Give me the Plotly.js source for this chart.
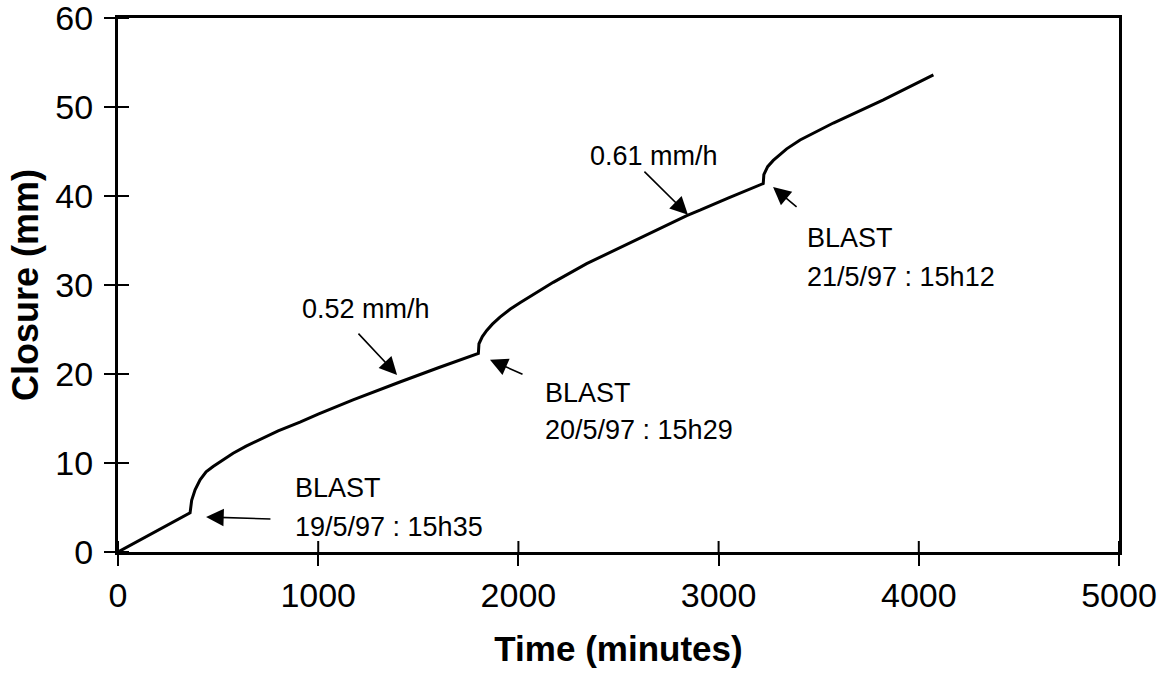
<!DOCTYPE html>
<html>
<head>
<meta charset="utf-8">
<script src="https://cdn.plot.ly/plotly-3.0.1.min.js"></script>
<style>html,body{margin:0;padding:0;background:#fff}#chart{width:1166px;height:681px}</style>
</head>
<body>
<div id="chart"></div>
<script>
const timeMin = [0, 360, 368, 385, 410, 440, 475, 520, 575, 640, 709, 800, 909, 1000, 1174, 1300, 1408, 1600, 1800, 1803, 1820, 1842, 1870, 1908, 1960, 2008, 2100, 2174, 2341, 2591, 2841, 2907, 3050, 3223, 3226, 3245, 3273, 3340, 3407, 3573, 3700, 3823, 4073];
const closureMm = [0, 4.4, 5.8, 7.0, 8.1, 9.0, 9.6, 10.3, 11.1, 11.9, 12.6, 13.6, 14.6, 15.5, 17.1, 18.2, 19.1, 20.7, 22.3, 23.4, 24.2, 24.9, 25.6, 26.4, 27.3, 28.0, 29.3, 30.3, 32.4, 35.1, 37.8, 38.4, 39.8, 41.4, 42.4, 43.3, 44.0, 45.3, 46.3, 48.2, 49.5, 50.8, 53.6];

const xTicks = [0, 1000, 2000, 3000, 4000, 5000];
const yTicks = [0, 10, 20, 30, 40, 50, 60];

// arrows: [headX, headY, tailX, tailY]
const arrowHeads = [[440, 3.93, 769, 3.7], [1394, 19.9, 1194, 24.7], [1858, 21.6, 2028, 19.9], [2847, 37.9, 2622, 42.9], [3272, 41.0, 3397, 38.65]];
// labels: [text, x (left), y (center)]
const labels = [
  ["0.61 mm/h", 2348, 44.5],
  ["0.52 mm/h", 909, 27.3],
  ["BLAST", 2123, 17.9],
  ["20/5/97 : 15h29", 2123, 13.7],
  ["BLAST", 3432, 35.3],
  ["21/5/97 : 15h12", 3432, 30.9],
  ["BLAST", 874, 7.19],
  ["19/5/97 : 15h35", 874, 2.81]
];

const FONT = "Arial, 'Liberation Sans', sans-serif";

const annotations = [];
arrowHeads.forEach(a => {
  annotations.push({
    x: a[0], y: a[1], ax: a[2], ay: a[3], axref: 'x', ayref: 'y', xref: 'x', yref: 'y',
    text: '', showarrow: true, arrowhead: 2, arrowsize: 2.2, arrowwidth: 1.6, arrowcolor: '#000', standoff: 0
  });
});
labels.forEach(l => {
  annotations.push({
    x: l[1], y: l[2], xref: 'x', yref: 'y', text: l[0], showarrow: false,
    xanchor: 'left', yanchor: 'middle', font: {family: FONT, size: 27, color: '#000'}
  });
});

// inward halves of the crossing tick marks (outer halves are the axes' own ticks)
const shapes = [];
xTicks.forEach(v => shapes.push({type: 'line', xref: 'x', x0: v, x1: v, yref: 'paper', ysizemode: 'pixel', yanchor: 0, y0: 0, y1: 11, line: {color: '#000', width: 2}}));
yTicks.forEach(v => shapes.push({type: 'line', yref: 'y', y0: v, y1: v, xref: 'paper', xsizemode: 'pixel', xanchor: 0, x0: 0, x1: 11, line: {color: '#000', width: 2}}));

const traces = [
  {x: timeMin, y: closureMm, type: 'scatter', mode: 'lines', line: {color: '#000', width: 3}, hoverinfo: 'skip'}
];

const axBase = {showgrid: false, zeroline: false, linecolor: '#000', tickcolor: '#000', ticklen: 11, tickwidth: 2, ticklabeloverflow: 'allow'};

const layout = {
  width: 1166, height: 681,
  margin: {l: 118, r: 47, t: 18, b: 129},
  paper_bgcolor: '#fff', plot_bgcolor: '#fff',
  showlegend: false,
  font: {family: FONT, color: '#000'},
  xaxis: Object.assign({}, axBase, {
    range: [0, 5000], tickmode: 'array', tickvals: xTicks, ticktext: xTicks.map(String),
    ticks: 'outside', showline: true, linewidth: 3, mirror: true,
    tickfont: {family: FONT, size: 34, color: '#000'}, ticklabelstandoff: 0,
    title: {text: '<b>Time (minutes)</b>', font: {family: FONT, size: 35, color: '#000'}, standoff: 24}
  }),
  yaxis: Object.assign({}, axBase, {
    range: [0, 60], tickmode: 'array', tickvals: yTicks, ticktext: yTicks.map(String),
    ticks: 'outside', showline: true, linewidth: 3, mirror: true,
    tickfont: {family: FONT, size: 34, color: '#000'}, ticklabelstandoff: 4,
    title: {text: '<b>Closure (mm)</b>', font: {family: FONT, size: 36, color: '#000'}, standoff: 6}
  }),
  shapes: shapes,
  annotations: annotations
};

Plotly.newPlot('chart', traces, layout, {staticPlot: true, displayModeBar: false});
</script>
</body>
</html>
